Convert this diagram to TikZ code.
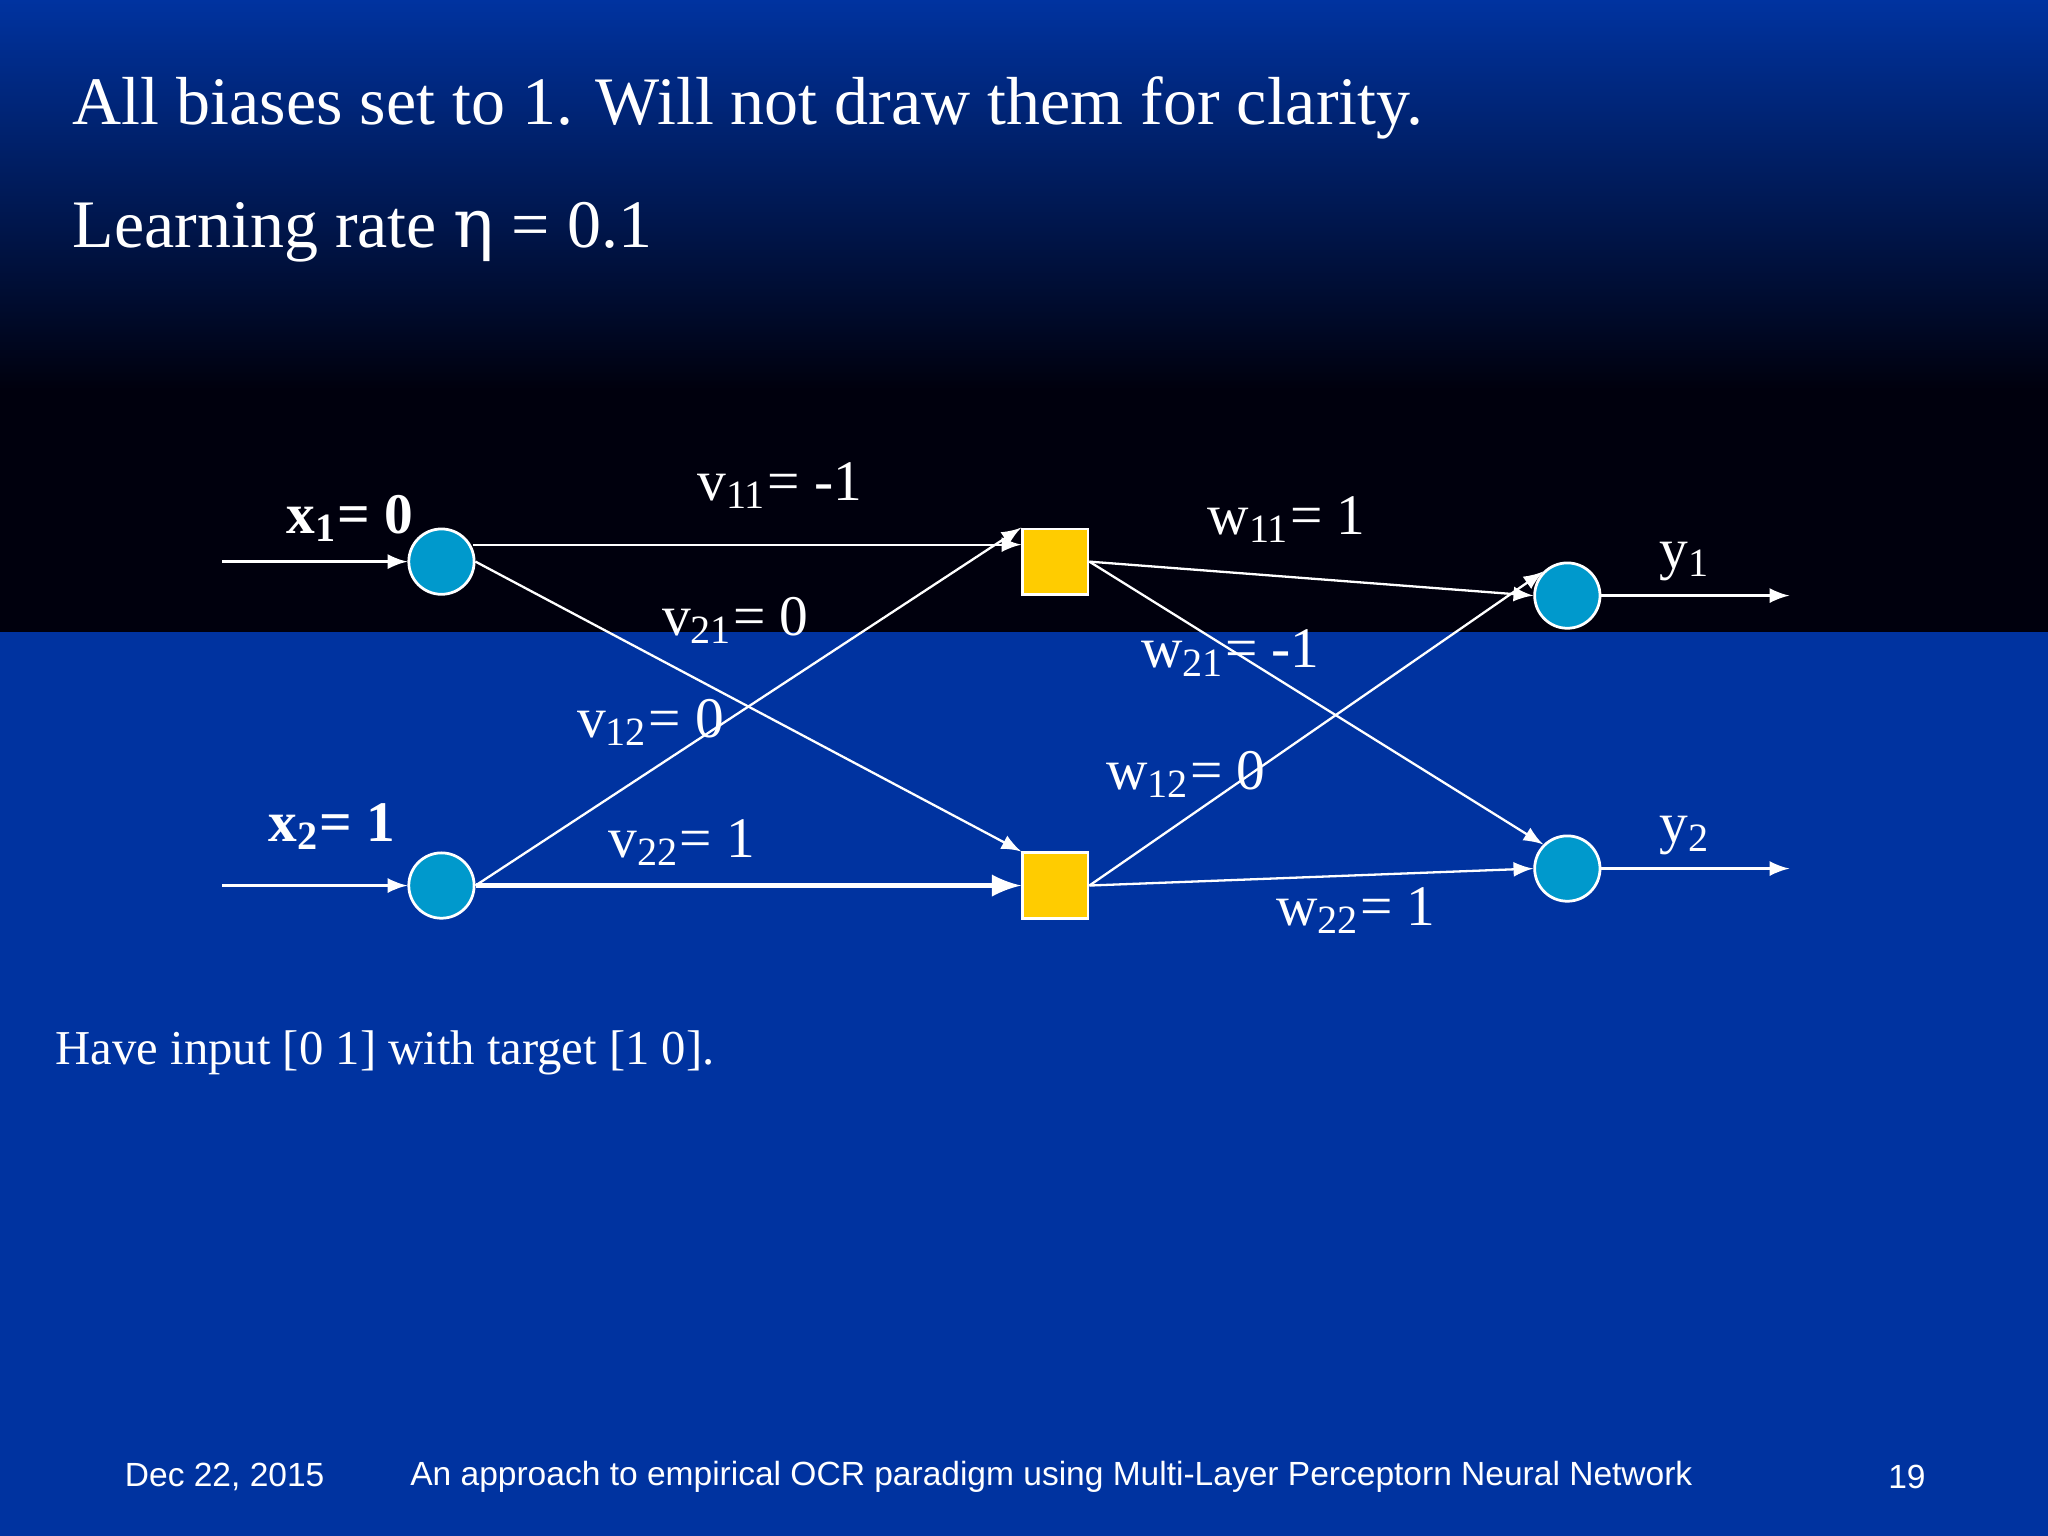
\documentclass[tikz,border=0pt]{standalone}
\usepackage{fontspec}
\setmainfont{Liberation Serif}
\newfontfamily\footfont{Liberation Sans}
\definecolor{slideblue}{HTML}{0033A0}
\definecolor{nodeblue}{HTML}{0099CC}
\definecolor{boxyellow}{HTML}{FFCC00}
\begin{document}
\begin{tikzpicture}[x=0.01cm,y=-0.01cm,
  neuron/.style={circle,fill=nodeblue,draw=white,line width=0.6pt,minimum size=0.5cm,inner sep=0},
  hidden/.style={rectangle,fill=boxyellow,draw=white,line width=0.6pt,minimum size=0.5cm,inner sep=0},
  conn/.style={draw=white,line width=0.5pt,-latex},
  lbl/.style={text=white,font=\fontsize{12.5pt}{14pt}\selectfont,inner sep=0},
  big/.style={text=white,font=\fontsize{14.8pt}{17pt}\selectfont,inner sep=0,anchor=west},
  foot/.style={text=white,inner sep=0,font=\footfont\fontsize{7.3pt}{8pt}\selectfont}]
\useasboundingbox (0,0) rectangle (1568,1176);
\fill[slideblue] (0,484) rectangle (1568,1176);
\shade[top color=slideblue,bottom color=black!95!blue] (0,0) rectangle (1568,300);
\fill[black!95!blue] (0,299) rectangle (1568,484);
\node[big] (t1) at (55,83) {All biases set to 1. Will not draw them for clarity.};
\node[big] (t2) at (55,178) {Learning rate \fontspec{DejaVu Serif}η\fontspec{Liberation Serif}\ = 0.1};
\node[neuron] (x1) at (338,430) {};
\node[neuron] (x2) at (338,678) {};
\node[hidden] (h1) at (808,430) {};
\node[hidden] (h2) at (808,678) {};
\node[neuron] (y1) at (1200,456) {};
\node[neuron] (y2) at (1200,665) {};
\coordinate (i1) at (170,430);
\coordinate (i2) at (170,678);
\coordinate (o1) at (1370,456);
\coordinate (o2) at (1370,665);
\coordinate (s11) at (362,417);
\coordinate (e11) at (h1.west |- s11);
\draw[conn] (i1) -- (x1);
\draw[conn] (i2) -- (x2);
\draw[conn] (y1) -- (o1);
\draw[conn] (y2) -- (o2);
\draw[conn] (s11) -- (e11);
\draw[conn] (x1.east) -- (h2.north west);
\draw[conn] (x2.east) -- (h1.north west);
\draw[conn,line width=1.2pt] (x2.east) -- (h2.west);
\draw[conn] (h1.east) -- (y1.west);
\draw[conn] (h1.east) -- (y2.north west);
\draw[conn] (h2.east) -- (y1.north west);
\draw[conn] (h2.east) -- (y2.west);
\node[lbl] (lx1) at (268,397) {\textbf{x\textsubscript{1}= 0}};
\node[lbl] (lx2) at (254,633) {\textbf{x\textsubscript{2}= 1}};
\node[lbl] (lv11) at (597,372) {v\textsubscript{11}= -1};
\node[lbl] (lv21) at (563,475) {v\textsubscript{21}= 0};
\node[lbl] (lv12) at (498,553) {v\textsubscript{12}= 0};
\node[lbl] (lv22) at (522,645) {v\textsubscript{22}= 1};
\node[lbl] (lw11) at (985,398) {w\textsubscript{11}= 1};
\node[lbl] (lw21) at (942,500) {w\textsubscript{21}= -1};
\node[lbl] (lw12) at (908,593) {w\textsubscript{12}= 0};
\node[lbl] (lw22) at (1038,697) {w\textsubscript{22}= 1};
\node[lbl] (ly1) at (1290,430) {y\textsubscript{1}};
\node[lbl] (ly2) at (1290,640) {y\textsubscript{2}};
\node[text=white,anchor=west,inner sep=0,font=\fontsize{10.6pt}{12pt}\selectfont] (note) at (42,806) {Have input [0 1] with target [1 0].};
\node[foot] (f1) at (172,1131) {Dec 22, 2015};
\node[foot] (f2) at (805,1131) {An approach to empirical OCR paradigm using Multi-Layer Perceptorn Neural Network};
\node[foot] (f3) at (1460,1131) {19};
\end{tikzpicture}
\end{document}
